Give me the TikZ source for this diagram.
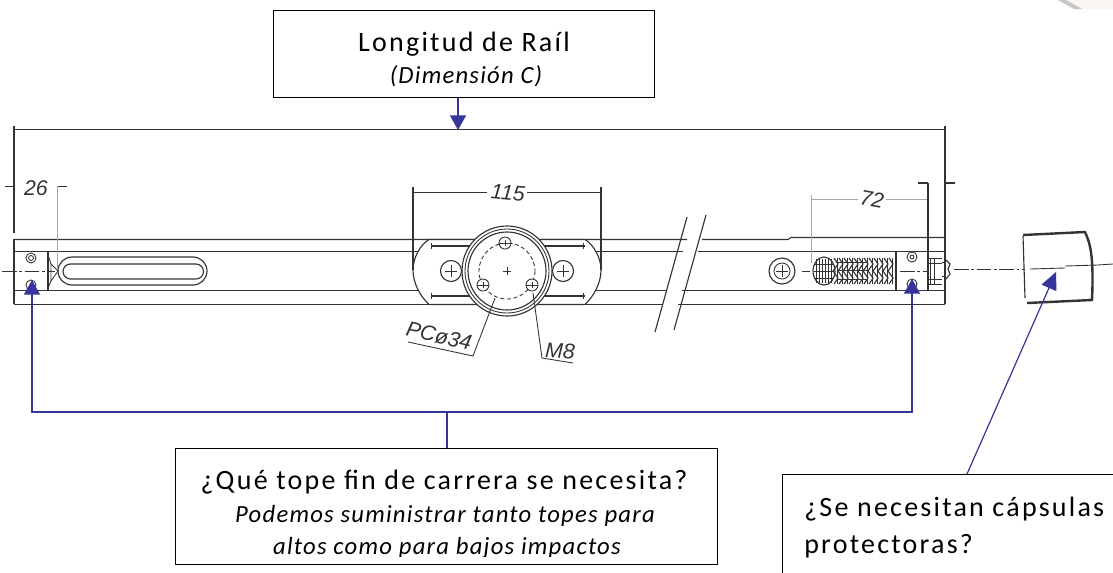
\documentclass[tikz,border=0pt]{standalone}
\usepackage{fontspec}
\setmainfont{Carlito}
\newfontfamily\lab{Liberation Sans}
\usetikzlibrary{arrows.meta}
\definecolor{pblue}{HTML}{35359B}
\definecolor{ink}{HTML}{333333}
\definecolor{soft}{HTML}{A8A8A8}
\definecolor{peach}{HTML}{FAF6F1}
\tikzset{
  box/.style={draw=black,fill=white,line width=1.1pt,inner sep=0pt,anchor=north west},
  head/.style={anchor=base,inner sep=0pt,font=\fontsize{21}{20}\selectfont\addfontfeature{LetterSpace=8}},
  sub/.style={anchor=base,inner sep=0pt,font=\fontsize{18.5}{18}\selectfont\itshape\addfontfeature{LetterSpace=5}},
  free/.style={anchor=base west,inner sep=0pt,font=\fontsize{21}{20}\selectfont\addfontfeature{LetterSpace=8}},
  dim/.style={font=\fontsize{16}{16}\selectfont\lab\itshape,text=ink,inner sep=0pt},
  pipe/.style={draw=pblue,line width=1.2pt},
  tipped/.style={pipe,-{Triangle[width=12pt,length=11pt]}},
  cad/.style={draw=ink,line width=0.85pt},
  cadthick/.style={draw=ink,line width=1.05pt},
  faint/.style={draw=soft,line width=0.7pt},
  fine/.style={draw=ink,line width=0.65pt},
  axis/.style={draw=ink,line width=0.7pt,dash pattern=on 11pt off 2pt on 2pt off 2pt}
}
\begin{document}
\begin{tikzpicture}[x=0.75pt,y=-0.75pt]
\clip (0,0) rectangle (1113,572);
\fill[white] (0,0) rectangle (1113,572);
% corner
\fill[peach] (1058,0) -- (1113,0) -- (1113,9) -- (1076,9) -- cycle;
\fill[gray!45] (1058,0) -- (1066,0) -- (1082,9) -- (1074,9) -- cycle;

% overall dimension
\draw[cad] (14,129.5) -- (945,129.5);
\draw[cad] (14,126) -- (14,233);
\draw[cadthick] (945,126) -- (945,304);
\draw[cadthick] (14,239) -- (14,304);

% rail lines with break
\draw[cad] (14,239.5) -- (687,239.5) (702,239.5) -- (788,239.5) -- (791,237.5) -- (945,237.5);
\draw[cad] (14,251.5) -- (683,251.5) (698,251.5) -- (945,251.5);
\draw[cad] (14,290.5) -- (667,290.5) (682,290.5) -- (945,290.5);
\draw[cad] (14,304.5) -- (662,304.5) (678,304.5) -- (945,304.5);
\draw[cad] (687,217) -- (655,332);
\draw[cad] (706,215) -- (674,330);

% dimension 26
\draw[fine] (5,186) -- (14,186);
\draw[fine] (57,186) -- (67,186);
\draw[faint] (57,186) -- (57,268);
\node[dim] (d26) at (36,188) {26};

% left end stop and slot
\draw[cad] (14,251.5) rectangle (48,290.5);
\draw[fine] (48,255) -- (51,264) -- (51,281) -- (48,288);
\draw[fine] (51,264) -- (58,271) -- (51,281);
\draw[fine] (31,258) circle[radius=5] (31,258) circle[radius=2.5];
\draw[fine] (31,285) circle[radius=5];
\draw[axis] (2,271) -- (55,271);
\draw[cad] (72,257) -- (193,257) arc[start angle=-90,end angle=90,radius=14] -- (72,285) arc[start angle=90,end angle=270,radius=14] -- cycle;
\draw[cad] (70.5,264) -- (196,264) arc[start angle=-90,end angle=90,radius=7.5] -- (70.5,279) arc[start angle=90,end angle=270,radius=7.5] -- cycle;

% centre plate
\draw[cad,fill=white] (429,239.5) .. controls (420,245) and (413,258) .. (413,270)
   .. controls (413,283) and (420,296) .. (429,304.5) -- (585,304.5)
   .. controls (594,296) and (601,283) .. (601,270)
   .. controls (601,258) and (594,245) .. (585,239.5) -- cycle;
\draw[cad] (431,246) -- (585,246) (431,296) -- (585,296);
\draw[fine] (431,243) -- (431,249) (431,293) -- (431,299) (583,243) -- (583,249) (583,293) -- (583,299);
\draw[cad,fill=white] (507,271) circle[radius=45];
\draw[fine] (507,271) circle[radius=42];
\draw[cad] (507,271) circle[radius=39];
\draw[fine,densely dashed] (507,271) circle[radius=28];
\draw[fine] (503,271) -- (511,271) (507,267) -- (507,275);
\foreach \px/\py in {505/243,483/285,532/285}{
  \draw[fine,fill=white] (\px,\py) circle[radius=6];
  \draw[fine] (\px-6,\py) -- (\px+6,\py);
  \draw[fine] (\px,\py-3) -- (\px,\py+3);
}
\foreach \px in {451,563}{
  \draw[cad,fill=white] (\px,271) circle[radius=10.5];
  \draw[fine] (\px-6,271) -- (\px+6,271) (\px,265) -- (\px,277);
}
% dimension 115
\draw[cad] (413,187) -- (413,270);
\draw[cad] (601,187) -- (601,270);
\draw[cad] (413,192.5) -- (487,192.5);
\draw[cad] (527,192.5) -- (601,192.5);
\node[dim,rotate=-5] (d115) at (508,193) {115};
% leaders
\draw[fine] (495,298) -- (473,356) -- (408,342);
\node[dim,rotate=-13] (dpc) at (439,336) {PCø34};
\draw[fine] (533,293) -- (542,358) -- (573,363);
\node[dim,rotate=-3] (dm8) at (560,351) {M8};

% right hand assembly
\draw[cad] (782,271) circle[radius=13];
\draw[fine] (782,271) circle[radius=8];
\draw[fine] (776,271) -- (788,271) (782,265) -- (782,277);
\draw[fine] (802,271) -- (810,271);
\draw[cad] (824,271) ellipse[x radius=11,y radius=14];
\foreach \q in {816,819,...,832}{\draw[fine] (\q,259) -- (\q,283);}
\draw[fine] (814,264) -- (834,264) (814,271) -- (834,271) (814,278) -- (834,278);
\foreach \q in {834,839,...,889}{
  \draw[cad] (\q,258) -- (\q+4,264) -- (\q-1,271) -- (\q+4,278) -- (\q,284);
  \draw[fine] (\q+3,258) -- (\q+3,284);
}
\draw[fine] (838,262) -- (868,262) (838,270) -- (868,270) (838,279) -- (868,279);
\draw[cad] (896,251.5) rectangle (928,290.5);
\draw[fine] (912,257) circle[radius=5] (912,257) circle[radius=2];
\draw[fine] (912,284) circle[radius=5];
\draw[axis] (900,271) -- (928,271);
\draw[fine] (930,258) -- (930,284) (934,258) -- (934,284);
\draw[fine] (928,258) -- (942,258) (928,263) -- (942,263) (928,279) -- (942,279) (928,284) -- (942,284);
\draw[cad] (946,260) -- (950,264) -- (948,269) -- (950,274) -- (946,279);
\draw[fine] (942,262) -- (945,262) (942,276) -- (945,276);
\draw[axis] (954,269) -- (1025,269);

% dimension 72
\draw[faint] (811,195) -- (811,263);
\draw[faint] (811,199) -- (858,199) (886,199) -- (928,199);
\node[dim,rotate=-10] (d72) at (872,199) {72};
\draw[cad] (928,183) -- (928,251);
\draw[cadthick] (918,183) -- (928,183);
\draw[cadthick] (945,183) -- (955,183);

% end cap
\draw[cad] (1023,236) -- (1025,298);
\draw[draw=ink,line width=1.8pt] (1023,235) -- (1085,232) .. controls (1090,243) and (1094,255) .. (1092,300) -- (1089,300);
\draw[draw=ink,line width=1.8pt] (1027,303) -- (1092,300);
\draw[fine] (1030,269) -- (1065,268) (1065,266) -- (1098,265);
\draw[fine] (1098,265) -- (1113,264);

% text boxes
\node[box,minimum width=285.75pt,minimum height=65.25pt] (rail) at (273,10) {};
\node[box,minimum width=406.5pt,minimum height=87pt] (stop) at (175,448) {};
\node[box,minimum width=264.75pt,minimum height=94.5pt] (capq) at (782,474) {};

\node[head] (t1) at (464,51) {Longitud de Raíl};
\node[sub] (t2) at (466,83) {(Dimensión C)};
\node[head] (t3) at (444,489) {¿Qué tope fin de carrera se necesita?};
\node[sub] (t4) at (445,522) {Podemos suministrar tanto topes para};
\begin{scope}
\clip (175,448) rectangle (717,556);
\node[sub] (t5) at (447,554) {altos como para bajos impactos};
\end{scope}
\node[free] (t6) at (804,516) {¿Se necesitan cápsulas};
\node[free] (t7) at (804,553) {protectoras?};

% connectors
\coordinate (railtip) at (458,130);
\coordinate (hubl) at (32,412);
\coordinate (hubr) at (912,412);
\coordinate (tipl) at (32,280);
\coordinate (tipr) at (912,279);
\coordinate (captip) at (1056,272);
\coordinate (capfoot) at (967,474);
\draw[tipped] (railtip |- rail.south) -- (railtip);
\draw[pipe] (stop.north) -- (stop.north |- hubl);
\draw[tipped] (stop.north |- hubl) -- (hubl) -- (tipl);
\draw[tipped] (stop.north |- hubr) -- (hubr) -- (tipr);
\draw[pipe,-{Triangle[width=12pt,length=13pt]},line width=0.9pt] (capfoot) -- (captip);
\end{tikzpicture}
\end{document}
